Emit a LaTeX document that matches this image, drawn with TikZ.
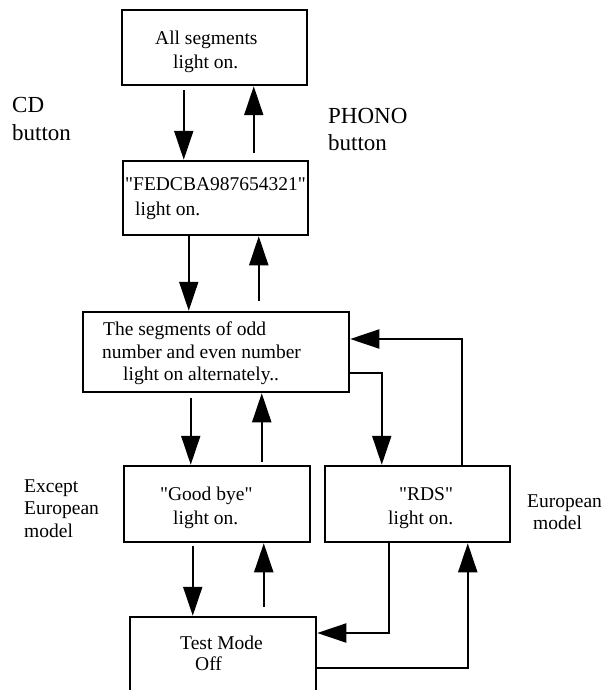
\documentclass[tikz,border=0pt]{standalone}
\usepackage{fontspec}
\setmainfont{Liberation Serif}[Ligatures=TeXOff]
\usetikzlibrary{arrows.meta}
\begin{document}
\begin{tikzpicture}[x=1pt,y=1pt,
  box/.style={draw, line width=2.5pt, inner sep=0pt, rectangle},
  arr/.style={line width=2pt, -{Triangle[length=29pt,width=19pt]}},
  txt/.style={anchor=base west, inner sep=0pt, font=\fontsize{19.5}{22.5}\selectfont},
  big/.style={anchor=base west, inner sep=0pt, font=\fontsize{23}{27}\selectfont}]
\useasboundingbox (0,0) rectangle (602,-690);
\clip (0,0) rectangle (602,-690);
\fill[white] (0,0) rectangle (602,-690);
% boxes
\node[box, minimum width=185pt, minimum height=75pt] (b1) at (214.5,-47.5) {};
\node[box, minimum width=185pt, minimum height=74pt] (b2) at (215.5,-198) {};
\node[box, minimum width=266pt, minimum height=80pt] (b3) at (216,-352) {};
\node[box, minimum width=186pt, minimum height=76pt] (b4) at (217,-504) {};
\node[box, minimum width=185pt, minimum height=76pt] (b5) at (417.5,-504) {};
\node[box, minimum width=186pt, minimum height=100pt] (b6) at (223,-667) {};
% box texts
\node[txt] (t1a) at (155,-45) {All segments};
\node[txt] (t1b) at (173,-69) {light on.};
\node[txt] (t2a) at (125,-190) {"FEDCBA987654321"};
\node[txt] (t2b) at (135,-215) {light on.};
\node[txt] (t3a) at (103,-335) {The segments of odd};
\node[txt] (t3b) at (102,-358) {number and even number};
\node[txt] (t3c) at (123,-380) {light on alternately..};
\node[txt] (t4a) at (160,-500) {"Good bye"};
\node[txt] (t4b) at (173,-524) {light on.};
\node[txt] (t5a) at (399,-500) {"RDS"};
\node[txt] (t5b) at (388,-524) {light on.};
\node[txt] (t6a) at (180,-649) {Test Mode};
\node[txt] (t6b) at (195,-670) {Off};
% side labels
\node[big] (cd1) at (12,-113) {CD};
\node[big] (cd2) at (12,-140) {button};
\node[big] (ph1) at (328,-124) {PHONO};
\node[big] (ph2) at (328,-150) {button};
\node[txt] (ex1) at (24,-492) {Except};
\node[txt] (ex2) at (24,-514) {European};
\node[txt] (ex3) at (24,-537) {model};
\node[txt] (eu1) at (527,-507) {European};
\node[txt] (eu2) at (533,-529) {model};
% connectors
\draw[arr] ([xshift=63pt,yshift=-4pt]b1.south west) -- ([xshift=62pt]b2.north west);
\draw[arr] ([xshift=132pt,yshift=7pt]b2.north west) -- ([xshift=133pt]b1.south west);
\draw[arr] ([xshift=67pt]b2.south west) -- ([xshift=107pt]b3.north west);
\draw[arr] ([xshift=177pt,yshift=10pt]b3.north west) -- ([xshift=137pt]b2.south west);
\draw[arr] ([xshift=109pt,yshift=-5pt]b3.south west) -- ([xshift=68pt]b4.north west);
\draw[arr] ([xshift=139pt,yshift=3pt]b4.north west) -- ([xshift=180pt]b3.south west);
\draw[arr] ([yshift=-21pt]b3.east) -| ([xshift=58pt]b5.north west);
\draw[arr] ([xshift=138pt]b5.north west) |- ([yshift=13pt]b3.east);
\draw[arr] ([xshift=70pt,yshift=-3pt]b4.south west) -- ([xshift=64pt]b6.north west);
\draw[arr] ([xshift=135pt,yshift=9pt]b6.north west) -- ([xshift=141pt]b4.south west);
\draw[arr] ([xshift=65pt]b5.south west) |- ([yshift=34pt]b6.east);
\draw[arr] ([yshift=-1pt]b6.east) -| ([xshift=144pt]b5.south west);
\end{tikzpicture}
\end{document}
